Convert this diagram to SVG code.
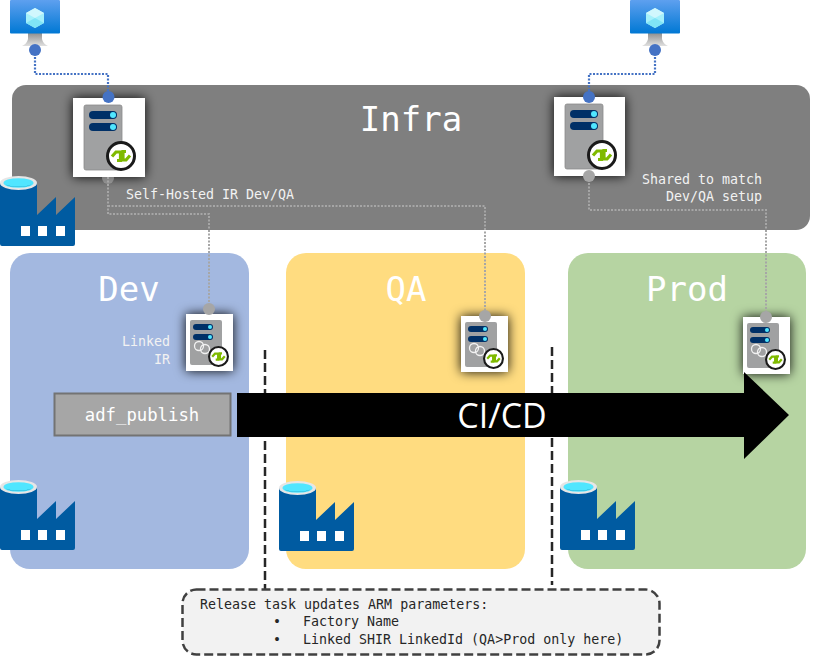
<svg xmlns="http://www.w3.org/2000/svg" width="822" height="657" viewBox="0 0 822 657">
<style>
.mono{font-family:"DejaVu Sans Mono","Liberation Mono",monospace}
.t{font-size:13.3px;fill:#f2f2f2}
.h{font-size:34px;fill:#fff}
.blue{fill:none;stroke:#4472c4;stroke-width:2.200;stroke-dasharray:2 1.500}
.grey{fill:none;stroke:#a6a6a6;stroke-width:2;stroke-dasharray:2 1.500}
.bd{fill:#4472c4}
.gd{fill:#a6a6a6}
.dash{stroke:#262626;stroke-width:2.500;stroke-dasharray:9 4;fill:none}
.card{fill:#000;fill-opacity:.95;filter:url(#sh)}
</style>
<defs>
<filter id="sh" x="-50%" y="-50%" width="200%" height="200%"><feGaussianBlur stdDeviation="6"/></filter>
<linearGradient id="vm" x1="0" y1="0" x2="0" y2="1"><stop offset="0" stop-color="#5ea0ef"/><stop offset="1" stop-color="#0078d4"/></linearGradient>
<linearGradient id="st" x1="0" y1="0" x2="0" y2="1"><stop offset="0" stop-color="#8f8f8f"/><stop offset="1" stop-color="#e0e0e0"/></linearGradient>
<symbol id="factory" width="75" height="75" viewBox="0 0 75 75" overflow="visible">
<path fill="#005ba1" d="M0 12V73a2 2 0 0 0 2 2H73a2 2 0 0 0 2-2V26L56 44V26L37 44V12Z"/>
<ellipse cx="18.500" cy="12" rx="18.500" ry="7" fill="#e6e6e6"/>
<ellipse cx="18.500" cy="12" rx="15" ry="4.800" fill="#50e6ff"/>
<path d="M5.500 13.500a14 3.500 0 0 0 26 0a14 3 0 0 1-26 0Z" fill="#0a7ea8"/>
<rect x="21" y="55" width="9" height="10" fill="#fff"/><rect x="38" y="55" width="9" height="10" fill="#fff"/><rect x="56" y="55" width="9" height="10" fill="#fff"/>
</symbol>
<symbol id="vmi" width="50" height="50" viewBox="0 0 50 50" overflow="visible">
<path d="M18 33H32V39Q33 44 38 46H12Q17 44 18 39Z" fill="url(#st)"/>
<rect x="0" y="0" width="50" height="33.500" rx="1" fill="url(#vm)"/>
<path d="M25 8L34 13V23L25 28L16 23V13Z" fill="#a5f0fb"/>
<path d="M25 8L34 13L25 18L16 13Z" fill="#d0f7fd"/>
<path d="M25 18L34 23L25 28L16 23Z" fill="#7fe4f6"/>
</symbol>
<symbol id="badge" width="30" height="30" viewBox="0 0 30 30" overflow="visible">
<circle cx="15" cy="15" r="13.500" fill="#fff" stroke="#1a1a1a" stroke-width="3"/>
<path d="M6 15.500L10 11H14.500V19.500H11" fill="none" stroke="#7fba00" stroke-width="3.200"/>
<path d="M24 14.500L20 19H17V10.500H20" fill="none" stroke="#7fba00" stroke-width="3.200"/>
</symbol>
<symbol id="server" width="72" height="79" viewBox="0 0 72 79">
<rect x="11" y="7" width="38" height="65" rx="2" fill="#a0a1a2" stroke="#8a8a8a" stroke-width="0.800"/>
<rect x="16" y="13" width="28" height="8" rx="4" fill="#003067"/><circle cx="40" cy="17" r="3" fill="#50e6ff"/>
<rect x="16" y="25" width="28" height="8" rx="4" fill="#003067"/><circle cx="40" cy="29" r="3" fill="#50e6ff"/>
<use href="#badge" x="33" y="43"/>
</symbol>
<symbol id="linked" width="47" height="57" viewBox="0 0 47 57">
<rect x="4" y="6" width="32" height="45" rx="2" fill="#a0a1a2"/>
<rect x="7" y="10" width="20" height="6" rx="3" fill="#003067"/><circle cx="24" cy="13" r="2" fill="#50e6ff"/>
<rect x="7" y="20" width="20" height="6" rx="3" fill="#003067"/><circle cx="24" cy="23" r="2" fill="#50e6ff"/>
<circle cx="13" cy="32" r="4.500" fill="none" stroke="#f2f2f2" stroke-width="1.300"/>
<circle cx="19" cy="35" r="4.500" fill="none" stroke="#f2f2f2" stroke-width="1.300"/>
<use href="#badge" transform="translate(22 32) scale(.7)"/>
</symbol>
</defs>
<rect width="822" height="657" fill="#fff"/>

<g id="infra"><rect x="12" y="85" width="798" height="145" rx="14" fill="#7f7f7f"/>
<text class="mono h" x="411" y="131" text-anchor="middle">Infra</text></g>
<g id="dev"><rect x="10" y="253" width="239" height="316" rx="20" fill="#a3b8e0"/>
<text class="mono h" x="129" y="301" text-anchor="middle">Dev</text></g>
<g id="qa"><rect x="286" y="253" width="239" height="316" rx="20" fill="#ffdc80"/>
<text class="mono h" x="406" y="301" text-anchor="middle">QA</text></g>
<g id="prod"><rect x="568" y="253" width="238" height="316" rx="20" fill="#b6d4a2"/>
<text class="mono h" x="687" y="301" text-anchor="middle">Prod</text></g>

<g id="shadows"><rect class="card" x="73" y="98" width="72" height="79"/><rect class="card" x="554" y="97" width="71" height="79"/><rect class="card" x="186" y="314" width="47" height="57"/><rect class="card" x="461" y="316" width="47" height="56"/><rect class="card" x="743" y="317" width="47" height="57"/></g>

<g id="connectors">
<path class="blue" d="M35 50V74H108V98"/>
<path class="blue" d="M655 50V74H589V97"/>
<path class="grey" d="M108 177V214H209V309"/>
<path class="grey" d="M108 206H485V316"/>
<path class="grey" d="M589 176V210H766V317"/>
<path class="dash" d="M265 350V589"/>
<path class="dash" d="M552 347V585"/>
</g>

<g id="label-self-hosted"><text class="mono t" x="126" y="199">Self-Hosted IR Dev/QA</text></g>
<g id="label-shared"><text class="mono t" x="762" y="184" text-anchor="end">Shared to match</text><text class="mono t" x="762" y="201" text-anchor="end">Dev/QA setup</text></g>
<g id="label-linked"><text class="mono t" x="170" y="346" text-anchor="end">Linked</text><text class="mono t" x="170" y="364" text-anchor="end">IR</text></g>

<g id="vm-left"><use href="#vmi" x="10" y="0"/><circle class="bd" cx="35" cy="50" r="6"/></g>
<g id="vm-right"><use href="#vmi" x="630" y="0"/><circle class="bd" cx="655" cy="50" r="6"/></g>

<g id="shir-devqa"><circle class="gd" cx="108" cy="178" r="6" fill-opacity=".6"/><rect x="73" y="98" width="72" height="79" fill="#fff"/><use href="#server" x="73" y="98"/><circle class="bd" cx="108.500" cy="97" r="6"/></g>
<g id="shir-prod"><rect x="554" y="97" width="71" height="79" fill="#fff"/><use href="#server" x="554" y="97"/><circle class="bd" cx="589" cy="97" r="6"/><circle class="gd" cx="589" cy="176" r="6"/></g>

<g id="linked-dev"><rect x="186" y="314" width="47" height="57" fill="#fff"/><use href="#linked" x="186" y="314"/><circle class="gd" cx="209" cy="309" r="6"/></g>
<g id="linked-qa"><rect x="461" y="316" width="47" height="56" fill="#fff"/><use href="#linked" x="461" y="316"/><circle class="gd" cx="485" cy="316" r="6"/></g>
<g id="linked-prod"><rect x="743" y="317" width="47" height="57" fill="#fff"/><use href="#linked" x="743" y="317"/><circle class="gd" cx="766" cy="317" r="6"/></g>

<g id="factory-infra"><use href="#factory" x="0" y="171"/></g>
<g id="factory-dev"><use href="#factory" x="0" y="475"/></g>
<g id="factory-qa"><use href="#factory" x="279" y="476"/></g>
<g id="factory-prod"><use href="#factory" x="560" y="475"/></g>

<g id="cicd"><path d="M237 393H744V372L789 415L744 459V437H237Z" fill="#000"/>
<text x="502" y="428" text-anchor="middle" font-family="'Open Sans','Liberation Sans',sans-serif" font-size="34" fill="#fff">CI/CD</text></g>
<g id="adf-publish"><rect x="54.500" y="393.500" width="176" height="42" fill="#a6a6a6" stroke="#737373" stroke-width="2"/>
<text class="mono" x="142" y="421" font-size="17.300" text-anchor="middle" fill="#fff">adf_publish</text></g>

<g id="note"><rect x="182.500" y="589.500" width="477" height="65" rx="14" fill="#f2f2f2" stroke="#404040" stroke-width="2.500" stroke-dasharray="9 4"/>
<text class="mono" font-size="13.300" fill="#262626"><tspan x="200" y="609">Release task updates ARM parameters:</tspan><tspan x="273" y="626">•</tspan><tspan x="303" y="626">Factory Name</tspan><tspan x="273" y="644">•</tspan><tspan x="303" y="644">Linked SHIR LinkedId (QA&gt;Prod only here)</tspan></text></g>
</svg>
